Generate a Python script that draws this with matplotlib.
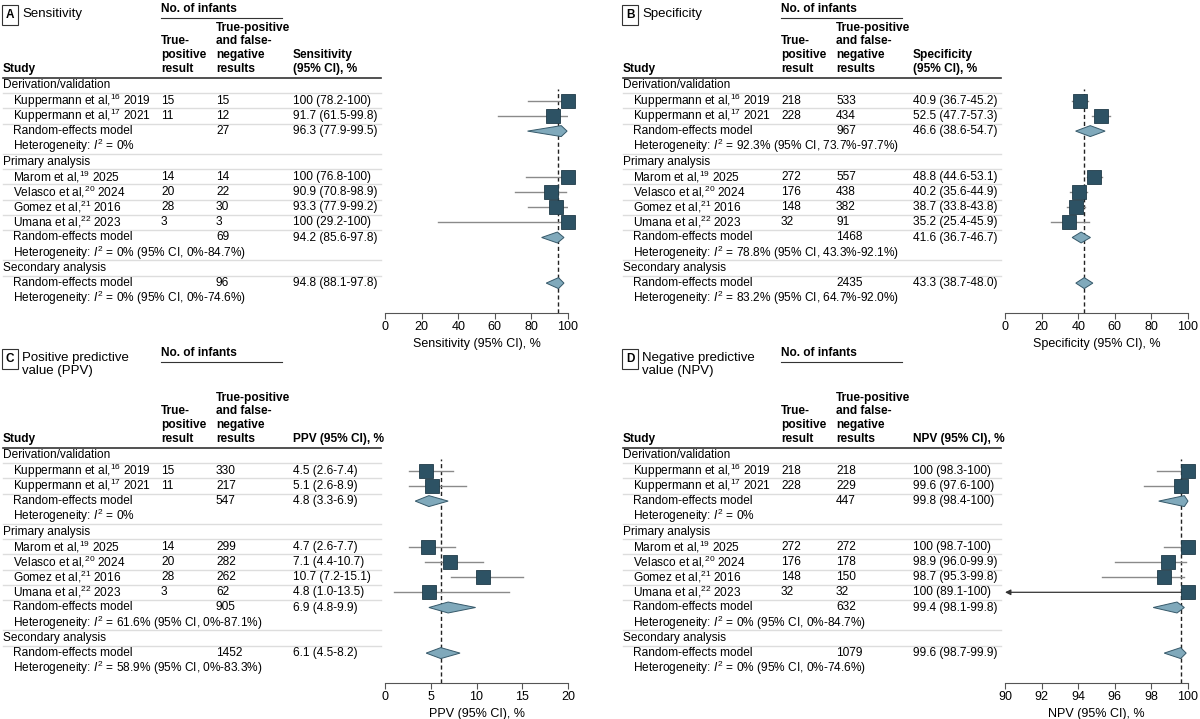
import matplotlib
matplotlib.use("Agg")
import matplotlib.pyplot as plt
from matplotlib.patches import Polygon

plt.rcParams['font.family'] = ['Liberation Sans', 'DejaVu Sans']
plt.rcParams['font.size'] = 8.6
plt.rcParams['mathtext.fontset'] = 'custom'
plt.rcParams['mathtext.rm'] = 'Liberation Sans'
plt.rcParams['mathtext.it'] = 'Liberation Sans:italic'

studies_deriv = ["Kuppermann et al,$^{16}$ 2019", "Kuppermann et al,$^{17}$ 2021"]
studies_prim = ["Marom et al,$^{19}$ 2025", "Velasco et al,$^{20}$ 2024",
                "Gomez et al,$^{21}$ 2016", "Umana et al,$^{22}$ 2023"]

sens_tp = [15, 11, 14, 20, 28, 3]
sens_n = [15, 12, 14, 22, 30, 3]
sens_est = [100, 91.7, 100, 90.9, 93.3, 100]
sens_lo = [78.2, 61.5, 76.8, 70.8, 77.9, 29.2]
sens_hi = [100, 99.8, 100, 98.9, 99.2, 100]
sens_pool_n = [27, 69, 96]
sens_pool = [(96.3, 77.9, 99.5), (94.2, 85.6, 97.8), (94.8, 88.1, 97.8)]
sens_het = ["0%", "0% (95% CI, 0%-84.7%)", "0% (95% CI, 0%-74.6%)"]

spec_tp = [218, 228, 272, 176, 148, 32]
spec_n = [533, 434, 557, 438, 382, 91]
spec_est = [40.9, 52.5, 48.8, 40.2, 38.7, 35.2]
spec_lo = [36.7, 47.7, 44.6, 35.6, 33.8, 25.4]
spec_hi = [45.2, 57.3, 53.1, 44.9, 43.8, 45.9]
spec_pool_n = [967, 1468, 2435]
spec_pool = [(46.6, 38.6, 54.7), (41.6, 36.7, 46.7), (43.3, 38.7, 48.0)]
spec_het = ["92.3% (95% CI, 73.7%-97.7%)", "78.8% (95% CI, 43.3%-92.1%)",
            "83.2% (95% CI, 64.7%-92.0%)"]

ppv_tp = [15, 11, 14, 20, 28, 3]
ppv_n = [330, 217, 299, 282, 262, 62]
ppv_est = [4.5, 5.1, 4.7, 7.1, 10.7, 4.8]
ppv_lo = [2.6, 2.6, 2.6, 4.4, 7.2, 1.0]
ppv_hi = [7.4, 8.9, 7.7, 10.7, 15.1, 13.5]
ppv_pool_n = [547, 905, 1452]
ppv_pool = [(4.8, 3.3, 6.9), (6.9, 4.8, 9.9), (6.1, 4.5, 8.2)]
ppv_het = ["0%", "61.6% (95% CI, 0%-87.1%)", "58.9% (95% CI, 0%-83.3%)"]

npv_tp = [218, 228, 272, 176, 148, 32]
npv_n = [218, 229, 272, 178, 150, 32]
npv_est = [100, 99.6, 100, 98.9, 98.7, 100]
npv_lo = [98.3, 97.6, 98.7, 96.0, 95.3, 89.1]
npv_hi = [100, 100, 100, 99.9, 99.8, 100]
npv_pool_n = [447, 632, 1079]
npv_pool = [(99.8, 98.4, 100), (99.4, 98.1, 99.8), (99.6, 98.7, 99.9)]
npv_het = ["0%", "0% (95% CI, 0%-84.7%)", "0% (95% CI, 0%-74.6%)"]

panels = [
    dict(letter="A", title="Sensitivity", col="Sensitivity\n(95% CI), %", xlab="Sensitivity (95% CI), %",
         tp=sens_tp, n=sens_n, est=sens_est, lo=sens_lo, hi=sens_hi, pn=sens_pool_n, pool=sens_pool,
         het=sens_het, xlim=(0, 100), ticks=[0, 20, 40, 60, 80, 100], ox=0, oy=0, hy=0),
    dict(letter="B", title="Specificity", col="Specificity\n(95% CI), %", xlab="Specificity (95% CI), %",
         tp=spec_tp, n=spec_n, est=spec_est, lo=spec_lo, hi=spec_hi, pn=spec_pool_n, pool=spec_pool,
         het=spec_het, xlim=(0, 100), ticks=[0, 20, 40, 60, 80, 100], ox=620, oy=0, hy=0),
    dict(letter="C", title="Positive predictive\nvalue (PPV)", col="PPV (95% CI), %", xlab="PPV (95% CI), %",
         tp=ppv_tp, n=ppv_n, est=ppv_est, lo=ppv_lo, hi=ppv_hi, pn=ppv_pool_n, pool=ppv_pool,
         het=ppv_het, xlim=(0, 20), ticks=[0, 5, 10, 15, 20], ox=0, oy=370, hy=-26),
    dict(letter="D", title="Negative predictive\nvalue (NPV)", col="NPV (95% CI), %", xlab="NPV (95% CI), %",
         tp=npv_tp, n=npv_n, est=npv_est, lo=npv_lo, hi=npv_hi, pn=npv_pool_n, pool=npv_pool,
         het=npv_het, xlim=(90, 100), ticks=[90, 92, 94, 96, 98, 100], ox=620, oy=370, hy=-26),
]

W, H = 1200, 719
fig = plt.figure(figsize=(12, 7.19), dpi=100)

SQ = "#2d5264"
DIA = "#80a9bb"
DIA_E = "#36596a"
ROW0, STEP = 85.5, 15.2


def row(y):
    return (y - ROW0) / STEP


def box(x0, y0, x1, y1):
    return [x0 / W, 1 - y1 / H, (x1 - x0) / W, (y1 - y0) / H]


def fmt(v):
    return "100" if v == 100 else f"{v:.1f}"


for p in panels:
    ox, oy, hy = p["ox"], p["oy"], p["hy"]
    top, bot = 77 + oy, 313 + oy
    tab = fig.add_axes(box(ox, top, ox + 600, bot))
    tab.set_xlim(0, 600)
    tab.set_ylim(row(313), row(77))
    tab.axis("off")
    ax = fig.add_axes(box(ox + 385, top, ox + 568, bot))
    ax.set_ylim(row(313), row(77))
    ax.set_xlim(*p["xlim"])
    ax.patch.set_alpha(0)

    # heading
    tab.text(6, row(9 + hy), p["letter"], fontsize=8.5, weight="bold", va="top",
             bbox=dict(boxstyle="square,pad=0.3", fc="white", ec="#333333", lw=0.8), clip_on=False)
    tab.text(22, row(8 + hy), p["title"], va="top", fontsize=9.5, linespacing=1.1, clip_on=False)
    tab.text(161, row(15 + hy), "No. of infants", weight="bold", va="bottom", clip_on=False)
    tab.plot([161, 282], [row(18 + hy)] * 2, color="#333333", lw=0.8, clip_on=False)
    yb = row(75)
    tab.text(3, yb, "Study", weight="bold", va="bottom", clip_on=False)
    tab.text(161, yb, "True-\npositive\nresult", weight="bold", va="bottom", linespacing=1.2, clip_on=False)
    tab.text(216, yb, "True-positive\nand false-\nnegative\nresults", weight="bold", va="bottom",
             linespacing=1.2, clip_on=False)
    tab.text(293, yb, p["col"], weight="bold", va="bottom", linespacing=1.2, clip_on=False)
    tab.plot([3, 381], [row(77.5)] * 2, color="#333333", lw=1.2, clip_on=False)

    for r in [0, 1, 2, 4, 5, 6, 7, 8, 9, 11, 12]:
        tab.plot([3, 381], [r + 0.5] * 2, color="#dddddd", lw=1)

    groups = ["Derivation/validation", "Primary analysis", "Secondary analysis"]
    study_rows = [1, 2, 6, 7, 8, 9]
    names = studies_deriv + studies_prim
    for g, r in zip(groups, [0, 5, 12]):
        tab.text(3, r, g, va="center")
    for i, r in enumerate(study_rows):
        est, lo, hi = p["est"][i], p["lo"][i], p["hi"][i]
        tab.text(13, r, names[i], va="center")
        tab.text(161, r, str(p["tp"][i]), va="center")
        tab.text(216, r, str(p["n"][i]), va="center")
        tab.text(293, r, f"{fmt(est)} ({lo:.1f}-{fmt(hi)})", va="center")
        if lo < p["xlim"][0]:
            ax.annotate("", xy=(p["xlim"][0], r), xytext=(hi, r),
                        arrowprops=dict(arrowstyle="-|>", color="#333333", lw=0.9,
                                        mutation_scale=8, shrinkA=0, shrinkB=0), annotation_clip=False)
        else:
            ax.plot([lo, hi], [r, r], color="#8a8a8a", lw=1, zorder=2)
        ax.plot(est, r, marker="s", ms=10, color=SQ, mec="#1f3b48", mew=0.6, zorder=3, clip_on=False)

    for k, r in enumerate([3, 10, 13]):
        est, lo, hi = p["pool"][k]
        tab.text(13, r, "Random-effects model", va="center")
        tab.text(13, r + 1, "Heterogeneity: $I^2$ = " + p["het"][k], va="center")
        tab.text(216, r, str(p["pn"][k]), va="center")
        tab.text(293, r, f"{est:.1f} ({lo:.1f}-{fmt(hi)})", va="center")
        ax.add_patch(Polygon([(lo, r), (est, r - 0.36), (hi, r), (est, r + 0.36)],
                             closed=True, fc=DIA, ec=DIA_E, lw=0.7, zorder=3, clip_on=False))

    ax.axvline(p["pool"][2][0], ymin=0, ymax=0.95, color="#222222", ls=(0, (3, 2)), lw=1, zorder=1)
    for s in ["top", "right", "left"]:
        ax.spines[s].set_visible(False)
    ax.spines["bottom"].set_color("#555555")
    ax.set_yticks([])
    ax.set_xticks(p["ticks"])
    ax.tick_params(axis="x", length=4, color="#555555", labelsize=9, pad=2)
    ax.set_xlabel(p["xlab"], fontsize=9, labelpad=3)

fig.savefig("out.png", dpi=100, facecolor="white")
